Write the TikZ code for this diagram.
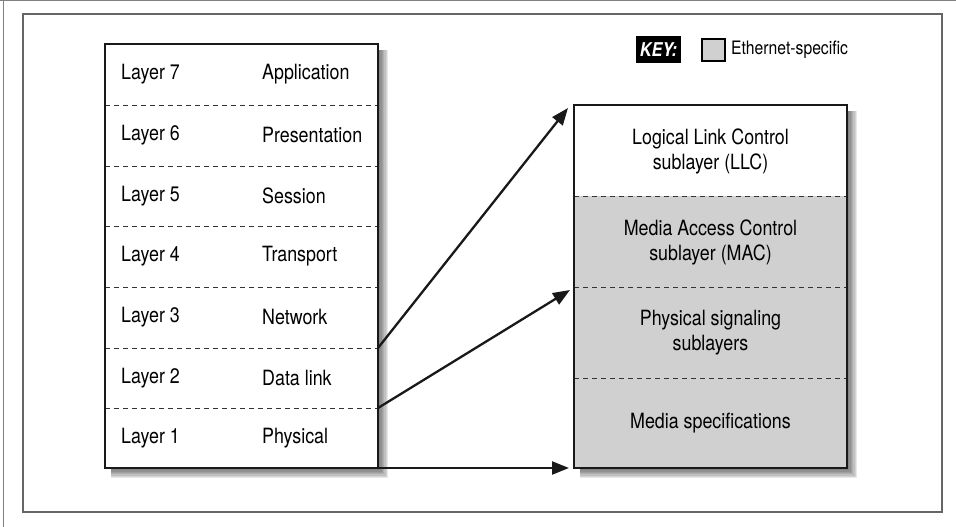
\documentclass[tikz,border=0pt]{standalone}
\usepackage{fontspec}
\setmainfont{TeX Gyre Heros}[FakeStretch=0.85]
\usetikzlibrary{arrows.meta}
\definecolor{eth}{RGB}{208,208,208}
\newcommand\boxshadow[4]{%
  \foreach \k in {1,...,7}{%
    \fill[black, opacity=0.09] (#1+6,#2+6) rectangle (#3+1+\k*1.3,#4+1+\k*1.3);}}
\begin{document}
\begin{tikzpicture}[x=1pt,y=-1pt,
  box/.style={draw=black!90, line width=2.5pt},
  sep/.style={draw=black!80, line width=1pt, dash pattern=on 5pt off 4pt},
  lbl/.style={font=\fontsize{21}{25}\selectfont, anchor=west, inner sep=0},
  ctr/.style={font=\fontsize{21}{25}\selectfont, align=center, inner sep=0},
  arr/.style={draw=black!90, line width=2.3pt, -{Triangle[length=17pt,width=13pt]}}]
\useasboundingbox (0,0) rectangle (956,527);
% page edges and frame
\draw[gray, line width=1pt] (0,1) -- (956,1);
\draw[gray, line width=1pt] (3,0) -- (3,527);
\draw[black!60, line width=1.5pt] (23,14) rectangle (942,512);
% shadows
\boxshadow{105}{44}{378}{468}
\boxshadow{574}{105}{847}{468}
% left box
\node[fill=white, minimum width=273pt, minimum height=424pt, anchor=north west, inner sep=0] (L) at (105,44) {};
\foreach \yy in {105,166,226,287,348,408}{\draw[sep] (105,\yy) -- (378,\yy);}
\node[lbl] (n7) at (121,74) {Layer 7};  \node[lbl] (a7) at (262,74) {Application};
\node[lbl] (n6) at (121,135) {Layer 6}; \node[lbl] (a6) at (262,135) {Presentation};
\node[lbl] (n5) at (121,196) {Layer 5}; \node[lbl] (a5) at (262,196) {Session};
\node[lbl] (n4) at (121,256) {Layer 4}; \node[lbl] (a4) at (262,256) {Transport};
\node[lbl] (n3) at (121,317) {Layer 3}; \node[lbl] (a3) at (262,317) {Network};
\node[lbl] (n2) at (121,378) {Layer 2}; \node[lbl] (a2) at (262,378) {Data link};
\node[lbl] (n1) at (121,438) {Layer 1}; \node[lbl] (a1) at (262,438) {Physical};
\draw[box] (105,44) rectangle (378,468);
% right box
\node[fill=white, minimum width=273pt, minimum height=363pt, anchor=north west, inner sep=0] (R) at (574,105) {};
\fill[eth] (574,196) rectangle (847,468);
\foreach \yy in {196,287,378}{\draw[sep] (574,\yy) -- (847,\yy);}
\node[ctr] (llc) at (710.5,151) {Logical Link Control\\sublayer (LLC)};
\node[ctr] (mac) at (710.5,242) {Media Access Control\\sublayer (MAC)};
\node[ctr] (phy) at (710.5,333) {Physical signaling\\sublayers};
\node[ctr] (med) at (710.5,423) {Media specifications};
\draw[box] (574,105) rectangle (847,468);
% arrows
\coordinate (s3) at (378,348);
\coordinate (s2) at (378,408);
\coordinate (s1) at (378,468);
\coordinate (t1) at (568,108);
\coordinate (t2) at (570,290);
\coordinate (t3) at (569,468);
\draw[arr] (s3) -- (t1);
\draw[arr] (s2) -- (t2);
\draw[arr] (s1) -- (t3);
% key
\node[fill=black, text=white, font=\fontsize{19}{21}\selectfont\bfseries\itshape, minimum width=45pt, minimum height=27pt, inner sep=0] (key) at (658.5,49.5) {KEY:};
\node[draw=black, line width=2pt, fill=eth, minimum width=23pt, minimum height=22pt, inner sep=0] (sw) at (713,50) {};
\node[anchor=west, inner sep=0, font=\fontsize{18.5}{22}\selectfont] (kt) at (731,50) {Ethernet-specific};
\end{tikzpicture}
\end{document}
